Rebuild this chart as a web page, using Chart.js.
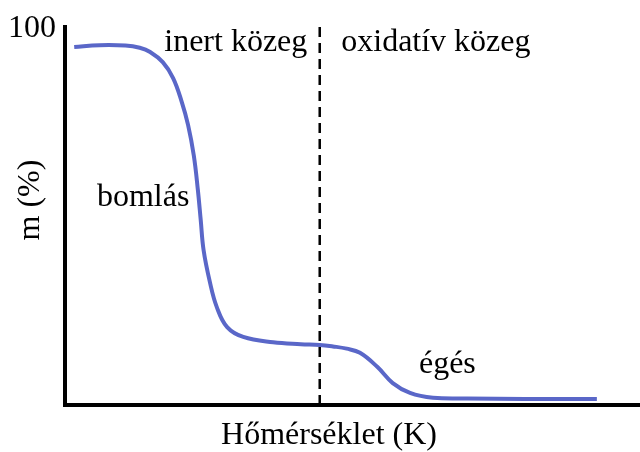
<!DOCTYPE html>
<html lang="hu">
<head>
<meta charset="utf-8">
<title>TGA görbe</title>
<script src="https://cdn.jsdelivr.net/npm/chart.js@4"></script>
<style>
  html, body { margin: 0; padding: 0; background: #fff; }
  #wrap { width: 640px; height: 452px; }
</style>
</head>
<body>
<div id="wrap"><canvas id="tgaChart" width="640" height="452"></canvas></div>
<script>
// Hőmérséklet (relatív egység) és tömeg (%) pontok
const homerseklet = [1.6, 6, 10.5, 13, 14.8, 17, 18.8, 20.3, 21.4, 22.4, 23.1, 23.6, 24.1, 25.2, 26.4, 28.2, 31, 36.2, 41, 44.3, 46.6, 49, 51.3, 54.3, 57, 60, 64, 70, 80, 92.5];
const tomeg = [94.7, 95.2, 95.1, 94.5, 93.4, 90.7, 86.5, 80.2, 74.1, 66, 57, 49, 41, 32.5, 25.9, 20.6, 18, 16.6, 16.1, 15.9, 15.5, 14.9, 13.8, 10.1, 5.8, 3.2, 1.9, 1.7, 1.6, 1.6];

const yTicks = [100];
const valtas = 44.3; // inert -> oxidatív közeg határa

const feliratok = [
  { text: 'inert közeg', x: 29.7, y: 95.8 },
  { text: 'oxidatív közeg', x: 64.5, y: 95.8 },
  { text: 'bomlás', x: 13.6, y: 55 },
  { text: 'égés', x: 66.5, y: 10.6 }
];

const serif = "'Liberation Serif', 'DejaVu Serif', serif";

// szaggatott függőleges vonal, tengelyfeliratok és szöveges címkék
const rajzolo = {
  id: 'rajzolo',
  afterDatasetsDraw(chart) {
    const { ctx, scales: { x, y }, chartArea } = chart;
    ctx.save();

    const xv = x.getPixelForValue(valtas);
    ctx.strokeStyle = '#000';
    ctx.lineWidth = 2.5;
    ctx.setLineDash([10, 6]);
    ctx.beginPath();
    ctx.moveTo(xv, chartArea.top);
    ctx.lineTo(xv, chartArea.bottom);
    ctx.stroke();
    ctx.setLineDash([]);

    ctx.fillStyle = '#000';
    ctx.font = '32px ' + serif;
    ctx.textAlign = 'center';
    ctx.textBaseline = 'middle';
    feliratok.forEach(f => {
      ctx.fillText(f.text, x.getPixelForValue(f.x), y.getPixelForValue(f.y));
    });

    // y tengely: csak a 100-as érték
    ctx.textAlign = 'right';
    yTicks.forEach(t => ctx.fillText(String(t), chartArea.left - 9, y.getPixelForValue(t) + 2));

    ctx.textAlign = 'center';
    ctx.fillText('Hőmérséklet (K)', 329, 436);

    ctx.translate(31, 200);
    ctx.rotate(-Math.PI / 2);
    ctx.fillText('m (%)', 0, 0);
    ctx.restore();
  }
};

function rajzol() {
  new Chart(document.getElementById('tgaChart'), {
    type: 'line',
    data: {
      datasets: [{
        data: homerseklet.map((t, i) => ({ x: t, y: tomeg[i] })),
        borderColor: '#5a67c8',
        borderWidth: 4,
        pointRadius: 0,
        fill: false,
        tension: 0.4
      }]
    },
    options: {
      responsive: false,
      animation: false,
      layout: { padding: { top: 27, right: 0, left: 0, bottom: 0 } },
      plugins: { legend: { display: false }, tooltip: { enabled: false } },
      scales: {
        x: {
          type: 'linear',
          min: 0,
          max: 100,
          grid: { display: false },
          ticks: { display: false },
          border: { display: true, color: '#000', width: 4 },
          afterFit(scale) { scale.height = 47; }
        },
        y: {
          min: 0,
          max: 100,
          grid: { display: false },
          ticks: { display: false },
          border: { display: true, color: '#000', width: 4 },
          afterFit(scale) { scale.width = 65; }
        }
      }
    },
    plugins: [rajzolo]
  });
}

document.fonts.load("32px 'Liberation Serif'").then(rajzol, rajzol);
</script>
</body>
</html>
